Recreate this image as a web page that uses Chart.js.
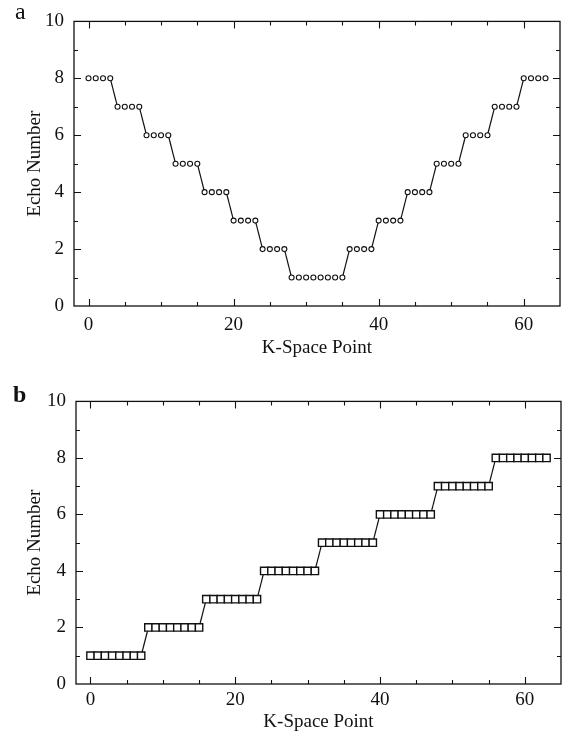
<!DOCTYPE html>
<html lang="en">
<head>
  <meta charset="UTF-8">
  <title>Echo Number vs K-Space Point</title>
  <style>
    body { margin: 0; background: #fff; width: 575px; height: 736px; position: relative; overflow: hidden; }
    .panel { position: absolute; left: 0; width: 575px; }
    .tag { position: absolute; font-family: "Liberation Serif", serif; font-size: 24px; color: #111; }
  </style>
</head>
<body>
  <div class="panel" style="top:0;height:370px"><canvas id="chartA" width="575" height="370"></canvas></div>
  <div class="panel" style="top:380px;height:356px"><canvas id="chartB" width="575" height="356"></canvas></div>
  <div class="tag" style="left:15px;top:-2px">a</div>
  <div class="tag" style="left:13px;top:381px;font-weight:bold">b</div>

  <script src="https://cdn.jsdelivr.net/npm/chart.js"></script>
  <script>
    // datos
    const kPoints = [...Array(64).keys()];
    const echoA = [8, 8, 8, 8, 7, 7, 7, 7, 6, 6, 6, 6, 5, 5, 5, 5,
                   4, 4, 4, 4, 3, 3, 3, 3, 2, 2, 2, 2, 1, 1, 1, 1,
                   1, 1, 1, 1, 2, 2, 2, 2, 3, 3, 3, 3, 4, 4, 4, 4,
                   5, 5, 5, 5, 6, 6, 6, 6, 7, 7, 7, 7, 8, 8, 8, 8];
    const echoB = [1, 1, 1, 1, 1, 1, 1, 1, 2, 2, 2, 2, 2, 2, 2, 2,
                   3, 3, 3, 3, 3, 3, 3, 3, 4, 4, 4, 4, 4, 4, 4, 4,
                   5, 5, 5, 5, 5, 5, 5, 5, 6, 6, 6, 6, 6, 6, 6, 6,
                   7, 7, 7, 7, 7, 7, 7, 7, 8, 8, 8, 8, 8, 8, 8, 8];
    const xTicks = [0, 20, 40, 60];
    const yTicks = [0, 2, 4, 6, 8, 10];

    const serif = '"Liberation Serif", "Times New Roman", serif';

    // marcas de eje hacia dentro en los cuatro lados + marco
    const marcos = {
      id: 'marcos',
      afterDraw(chart) {
        const { ctx, chartArea: a, scales: { x, y } } = chart;
        ctx.save();
        ctx.strokeStyle = '#111';
        ctx.lineWidth = 1.3;
        ctx.strokeRect(a.left, a.top, a.right - a.left, a.bottom - a.top);
        ctx.lineWidth = 1.1;
        ctx.beginPath();
        for (let v = 0; v <= 60; v += 5) {
          const px = Math.round(x.getPixelForValue(v)) + 0.5;
          const len = v % 20 === 0 ? 7 : 4;
          ctx.moveTo(px, a.bottom); ctx.lineTo(px, a.bottom - len);
          ctx.moveTo(px, a.top); ctx.lineTo(px, a.top + len);
        }
        for (let v = 1; v < 10; v++) {
          const py = Math.round(y.getPixelForValue(v)) + 0.5;
          const len = v % 2 === 0 ? 7 : 4;
          ctx.moveTo(a.left, py); ctx.lineTo(a.left + len, py);
          ctx.moveTo(a.right, py); ctx.lineTo(a.right - len, py);
        }
        ctx.stroke();
        ctx.restore();
      }
    };

    function crearGrafico(id, valores, estilo, radio, borde, pad, yWidth, xHeight, tickPad, titlePad) {
      return new Chart(document.getElementById(id), {
        type: 'scatter',
        data: {
          datasets: [{
            data: kPoints.map((k, i) => ({ x: k, y: valores[i] })),
            showLine: true,
            borderColor: '#111',
            borderWidth: 1.2,
            pointStyle: estilo,
            pointRadius: radio,
            pointBorderWidth: borde,
            pointBorderColor: '#111',
            pointBackgroundColor: '#fff',
            segment: {
              borderColor: c => c.p0.parsed.y === c.p1.parsed.y ? 'rgba(0,0,0,0)' : '#111'
            }
          }]
        },
        options: {
          responsive: false,
          animation: false,
          layout: { padding: pad },
          plugins: { legend: { display: false }, tooltip: { enabled: false } },
          scales: {
            x: {
              type: 'linear',
              min: -2,
              max: 65,
              border: { display: false },
              grid: { display: false, drawTicks: false },
              afterBuildTicks: s => { s.ticks = xTicks.map(v => ({ value: v })); },
              afterFit: s => { s.height = xHeight; },
              ticks: { padding: tickPad, color: '#111', font: { family: serif, size: 19 } },
              title: {
                display: true,
                text: 'K-Space Point',
                color: '#111',
                padding: { top: 0, bottom: titlePad },
                font: { family: serif, size: 19 }
              }
            },
            y: {
              min: 0,
              max: 10,
              border: { display: false },
              grid: { display: false, drawTicks: false },
              afterBuildTicks: s => { s.ticks = yTicks.map(v => ({ value: v })); },
              afterFit: s => { s.width = yWidth; },
              ticks: { padding: 10, color: '#111', font: { family: serif, size: 19 } },
              title: {
                display: true,
                text: 'Echo Number',
                color: '#111',
                padding: { top: 24, bottom: 0 },
                font: { family: serif, size: 19 }
              }
            }
          }
        },
        plugins: [marcos]
      });
    }

    crearGrafico('chartA', echoA, 'circle', 2.5, 1.1, { top: 15, right: 15, left: 0, bottom: 0 }, 74, 64, 8, 11);
    crearGrafico('chartB', echoB, 'rect', 5.2, 1.4, { top: 14, right: 14, left: 0, bottom: 0 }, 76, 52, 5, 3);
  </script>
</body>
</html>
